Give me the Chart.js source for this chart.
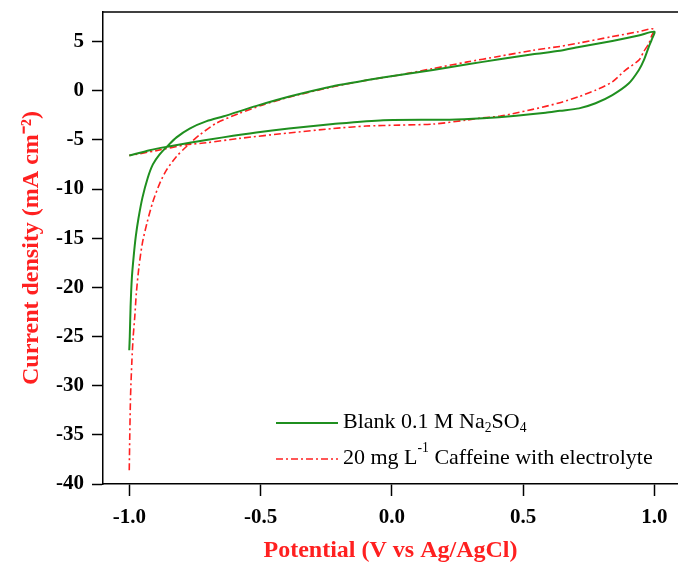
<!DOCTYPE html>
<html>
<head>
<meta charset="utf-8">
<script src="https://cdn.jsdelivr.net/npm/chart.js@4.4.0/dist/chart.umd.min.js"></script>
<style>
  html, body { margin: 0; padding: 0; background: #fff; }
  #wrap { width: 678px; height: 571px; position: relative; }
</style>
</head>
<body>
<div id="wrap"><canvas id="cv"></canvas></div>
<script>
// ---- data (potential in V, current density in mA cm-2) ----
const blankPotential = [
  -1.000, -0.998, -0.995, -0.990, -0.983, -0.975, -0.965, -0.950, -0.930, -0.910,
  -0.885, -0.855, -0.820, -0.770, -0.705, -0.640, -0.515, -0.390, -0.224, -0.098,
  0.029, 0.157, 0.283, 0.410, 0.537, 0.640, 0.713, 0.840, 0.940, 1.000,
  0.990, 0.979, 0.960, 0.941, 0.903, 0.840, 0.776, 0.713, 0.640, 0.586,
  0.474, 0.347, 0.220, -0.033, -0.224, -0.392, -0.516, -0.643, -0.770, -0.855,
  -0.922, -1.000
];
const blankCurrent = [
  -26.4, -25.0, -22.0, -19.0, -16.8, -14.8, -13.0, -10.9, -8.9, -7.5,
  -6.5, -5.65, -4.75, -3.85, -3.1, -2.6, -1.55, -0.6, 0.45, 1.05,
  1.6, 2.1, 2.65, 3.2, 3.7, 4.05, 4.45, 5.05, 5.6, 6.0,
  5.2, 4.48, 3.1, 2.1, 0.75, -0.45, -1.28, -1.8, -2.05, -2.25,
  -2.55, -2.8, -2.95, -3.0, -3.4, -3.85, -4.25, -4.75, -5.3, -5.7,
  -6.05, -6.6
];

const caffeinePotential = [
  -1.000, -0.998, -0.995, -0.990, -0.985, -0.979, -0.973, -0.963, -0.950, -0.932,
  -0.910, -0.885, -0.859, -0.820, -0.783, -0.732, -0.668, -0.580, -0.491, -0.392,
  -0.224, -0.098, 0.029, 0.157, 0.283, 0.410, 0.537, 0.640, 0.713, 0.840,
  0.940, 0.990, 1.000,
  0.990, 0.979, 0.960, 0.941, 0.890, 0.840, 0.776, 0.713, 0.650, 0.586,
  0.537, 0.459, 0.410, 0.333, 0.283, 0.157, 0.029, -0.098, -0.224, -0.392,
  -0.580, -0.707, -0.783, -0.897, -1.000
];
const caffeineCurrent = [
  -38.6, -35.0, -31.0, -27.5, -25.0, -23.0, -20.6, -17.9, -15.5, -13.4,
  -11.3, -9.5, -8.1, -6.7, -5.7, -4.5, -3.3, -2.3, -1.45, -0.67,
  0.4, 1.05, 1.6, 2.25, 2.9, 3.5, 4.1, 4.5, 4.85, 5.5,
  6.0, 6.3, 6.2,
  5.6, 4.8, 4.0, 3.1, 2.1, 0.9, 0.05, -0.6, -1.15, -1.6,
  -1.9, -2.35, -2.6, -2.8, -3.0, -3.4, -3.5, -3.6, -3.85, -4.3,
  -4.85, -5.3, -5.5, -6.1, -6.6
];

const xTicks = [-1.0, -0.5, 0.0, 0.5, 1.0];
const yTicks = [5, 0, -5, -10, -15, -20, -25, -30, -35, -40];

const GREEN = '#1f8f1f';
const RED = '#ff2020';
const SERIF = '"Liberation Serif", "Times New Roman", serif';

function toPoints(xs, ys) {
  return xs.map((x, i) => ({ x, y: ys[i] }));
}

// legend drawn inside the plot, with sub/superscripts
function drawRich(ctx, x, y, parts, size) {
  parts.forEach(p => {
    const s = p.sub || p.sup ? size * 0.62 : size;
    const dy = p.sub ? size * 0.3 : (p.sup ? -size * 0.42 : 0);
    ctx.font = `${s}px ${SERIF}`;
    ctx.fillText(p.t, x, y + dy);
    x += ctx.measureText(p.t).width;
  });
}

const framePlugin = {
  id: 'frame',
  afterDraw(chart) {
    const { ctx, chartArea } = chart;
    ctx.save();
    // top border of the frame
    ctx.strokeStyle = '#000';
    ctx.lineWidth = 1.5;
    ctx.beginPath();
    ctx.moveTo(chartArea.left, chartArea.top);
    ctx.lineTo(chartArea.right, chartArea.top);
    ctx.stroke();

    // legend
    const lx = 276, lw = 62;
    ctx.lineWidth = 2;
    ctx.strokeStyle = GREEN;
    ctx.beginPath();
    ctx.moveTo(lx, 423);
    ctx.lineTo(lx + lw, 423);
    ctx.stroke();
    ctx.lineWidth = 1.6;
    ctx.strokeStyle = RED;
    ctx.setLineDash([7, 3, 2, 3]);
    ctx.beginPath();
    ctx.moveTo(lx, 459);
    ctx.lineTo(lx + lw, 459);
    ctx.stroke();
    ctx.setLineDash([]);

    ctx.fillStyle = '#000';
    ctx.textBaseline = 'middle';
    drawRich(ctx, 343, 422, [
      { t: 'Blank 0.1 M Na' }, { t: '2', sub: true }, { t: 'SO' }, { t: '4', sub: true }
    ], 22);
    drawRich(ctx, 343, 458, [
      { t: '20 mg L' }, { t: '-1', sup: true }, { t: ' Caffeine with electrolyte' }
    ], 22);
    ctx.restore();
  }
};

const tickFont = { family: SERIF, size: 21, weight: 'bold' };
const titleFont = { family: SERIF, size: 24, weight: 'bold' };

new Chart(document.getElementById('cv'), {
  type: 'scatter',
  data: {
    datasets: [
      {
        label: 'Blank 0.1 M Na2SO4',
        data: toPoints(blankPotential, blankCurrent),
        showLine: true,
        borderColor: GREEN,
        borderWidth: 2,
        pointRadius: 0,
        tension: 0.25,
        fill: false
      },
      {
        label: '20 mg L-1 Caffeine with electrolyte',
        data: toPoints(caffeinePotential, caffeineCurrent),
        showLine: true,
        borderColor: RED,
        borderWidth: 1.6,
        borderDash: [7, 3, 2, 3],
        pointRadius: 0,
        tension: 0.25,
        fill: false
      }
    ]
  },
  options: {
    responsive: true,
    maintainAspectRatio: false,
    animation: false,
    layout: { padding: { top: 12, right: 0, bottom: 0, left: 0 } },
    plugins: {
      legend: { display: false },
      tooltip: { enabled: false }
    },
    scales: {
      x: {
        type: 'linear',
        min: -1.1,
        max: 1.09,
        afterBuildTicks: s => { s.ticks = xTicks.map(v => ({ value: v })); },
        afterFit: s => { s.height = 87; s.paddingLeft = 0; s.paddingRight = 0; },
        border: { color: '#000', width: 1.5 },
        grid: { drawOnChartArea: false, drawTicks: true, tickLength: 12, tickColor: '#000', tickWidth: 1.5 },
        ticks: {
          color: '#000',
          font: tickFont,
          padding: 9,
          maxRotation: 0,
          autoSkip: false,
          callback: v => v.toFixed(1)
        },
        title: {
          display: true,
          text: 'Potential (V vs Ag/AgCl)',
          color: RED,
          font: titleFont,
          padding: { top: 0, bottom: 6 }
        }
      },
      y: {
        min: -40,
        max: 8,
        afterBuildTicks: s => { s.ticks = yTicks.map(v => ({ value: v })); },
        afterFit: s => { s.width = 103; s.paddingTop = 0; s.paddingBottom = 0; },
        border: { color: '#000', width: 1.5 },
        grid: { drawOnChartArea: false, drawTicks: true, tickLength: 11, tickColor: '#000', tickWidth: 1.5 },
        ticks: {
          color: '#000',
          font: tickFont,
          padding: 8,
          autoSkip: false,
          callback: v => String(v)
        },
        title: {
          display: true,
          text: 'Current density (mA cm⁻²)',
          color: RED,
          font: titleFont,
          padding: { top: 17, bottom: 0 }
        }
      }
    }
  },
  plugins: [framePlugin]
});
</script>
</body>
</html>
